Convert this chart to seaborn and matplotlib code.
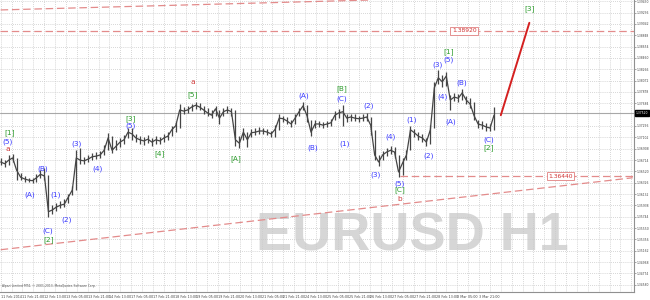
import numpy as np
import pandas as pd
import matplotlib
matplotlib.use("Agg")
import matplotlib.pyplot as plt
from matplotlib.ticker import MultipleLocator
import seaborn as sns

# ---------------- data ----------------
close = [1.3668, 1.3665, 1.3671, 1.3675, 1.3654, 1.3642, 1.3639, 1.3637, 1.3636, 1.3641,
         1.3647, 1.3644, 1.3583, 1.3586, 1.3591, 1.3594, 1.3596, 1.3608, 1.3620, 1.3675,
         1.3671, 1.3670, 1.3673, 1.3677, 1.3678, 1.3680, 1.3688, 1.3709, 1.3688, 1.3695,
         1.3702, 1.3706, 1.3719, 1.3716, 1.3709, 1.3706, 1.3704, 1.3707, 1.3702, 1.3706,
         1.3704, 1.3709, 1.3712, 1.3723, 1.3730, 1.3757, 1.3755, 1.3757, 1.3762, 1.3765,
         1.3762, 1.3757, 1.3752, 1.3748, 1.3759, 1.3743, 1.3754, 1.3757, 1.3754, 1.3706,
         1.3700, 1.3719, 1.3706, 1.3718, 1.3719, 1.3721, 1.3721, 1.3719, 1.3716, 1.3724,
         1.3743, 1.3742, 1.3738, 1.3733, 1.3743, 1.3754, 1.3764, 1.3747, 1.3719, 1.3733,
         1.3733, 1.3731, 1.3733, 1.3735, 1.3748, 1.3752, 1.3754, 1.3743, 1.3745, 1.3743,
         1.3742, 1.3743, 1.3745, 1.3731, 1.3680, 1.3668, 1.3680, 1.3685, 1.3688, 1.3685,
         1.3651, 1.3666, 1.3680, 1.3723, 1.3718, 1.3712, 1.3709, 1.3702, 1.3723, 1.3795,
         1.3812, 1.3805, 1.3815, 1.3774, 1.3779, 1.3777, 1.3786, 1.3774, 1.3767, 1.3747,
         1.3733, 1.3731, 1.3728, 1.3726, 1.3748]
high = [1.3675, 1.3671, 1.3680, 1.3682, 1.3675, 1.3649, 1.3644, 1.3641, 1.3641, 1.3647,
        1.3654, 1.3658, 1.3646, 1.3594, 1.3598, 1.3601, 1.3605, 1.3613, 1.3627, 1.3688,
        1.3692, 1.3677, 1.3680, 1.3683, 1.3685, 1.3687, 1.3697, 1.3718, 1.3712, 1.3706,
        1.3709, 1.3714, 1.3726, 1.3726, 1.3716, 1.3712, 1.3711, 1.3714, 1.3709, 1.3712,
        1.3711, 1.3716, 1.3719, 1.3730, 1.3736, 1.3767, 1.3762, 1.3764, 1.3767, 1.3771,
        1.3769, 1.3764, 1.3760, 1.3757, 1.3764, 1.3757, 1.3760, 1.3764, 1.3760, 1.3757,
        1.3712, 1.3726, 1.3719, 1.3724, 1.3726, 1.3728, 1.3726, 1.3724, 1.3721, 1.3731,
        1.3750, 1.3747, 1.3745, 1.3740, 1.3750, 1.3760, 1.3771, 1.3765, 1.3740, 1.3740,
        1.3738, 1.3736, 1.3738, 1.3742, 1.3755, 1.3759, 1.3765, 1.3750, 1.3750, 1.3750,
        1.3747, 1.3750, 1.3752, 1.3745, 1.3723, 1.3680, 1.3687, 1.3692, 1.3695, 1.3694,
        1.3680, 1.3675, 1.3688, 1.3730, 1.3724, 1.3719, 1.3716, 1.3709, 1.3731, 1.3805,
        1.3825, 1.3817, 1.3822, 1.3783, 1.3786, 1.3784, 1.3793, 1.3781, 1.3777, 1.3771,
        1.3740, 1.3738, 1.3735, 1.3733, 1.3762]
low = [1.3663, 1.3659, 1.3663, 1.3668, 1.3637, 1.3637, 1.3634, 1.3634, 1.3632, 1.3634,
       1.3641, 1.3637, 1.3574, 1.3579, 1.3584, 1.3589, 1.3591, 1.3598, 1.3612, 1.3620,
       1.3665, 1.3665, 1.3668, 1.3671, 1.3673, 1.3675, 1.3680, 1.3688, 1.3683, 1.3688,
       1.3694, 1.3699, 1.3709, 1.3706, 1.3702, 1.3699, 1.3697, 1.3700, 1.3695, 1.3699,
       1.3699, 1.3702, 1.3706, 1.3712, 1.3719, 1.3726, 1.3750, 1.3752, 1.3755, 1.3759,
       1.3757, 1.3750, 1.3747, 1.3743, 1.3747, 1.3733, 1.3747, 1.3752, 1.3747, 1.3695,
       1.3692, 1.3706, 1.3694, 1.3711, 1.3714, 1.3716, 1.3716, 1.3714, 1.3711, 1.3711,
       1.3723, 1.3736, 1.3733, 1.3728, 1.3733, 1.3747, 1.3757, 1.3736, 1.3712, 1.3726,
       1.3728, 1.3726, 1.3728, 1.3730, 1.3740, 1.3743, 1.3730, 1.3736, 1.3738, 1.3738,
       1.3736, 1.3738, 1.3738, 1.3714, 1.3671, 1.3661, 1.3671, 1.3678, 1.3682, 1.3675,
       1.3642, 1.3646, 1.3671, 1.3688, 1.3711, 1.3706, 1.3702, 1.3695, 1.3699, 1.3726,
       1.3801, 1.3796, 1.3798, 1.3757, 1.3772, 1.3771, 1.3774, 1.3767, 1.3760, 1.3740,
       1.3726, 1.3724, 1.3721, 1.3721, 1.3723]
last_bar = 363           # hourly bar index of the last sample
n_bars_view = 466        # bars visible in the window

date_labels = ["11 Feb 2014", "11 Feb 21:00", "12 Feb 13:00", "13 Feb 05:00", "13 Feb 21:00",
               "14 Feb 13:00", "17 Feb 05:00", "17 Feb 21:00", "18 Feb 13:00", "19 Feb 05:00",
               "19 Feb 21:00", "20 Feb 13:00", "21 Feb 05:00", "21 Feb 21:00", "24 Feb 13:00",
               "25 Feb 05:00", "25 Feb 21:00", "26 Feb 13:00", "27 Feb 05:00", "27 Feb 21:00",
               "28 Feb 13:00", "3 Mar 05:00", "3 Mar 21:00"]
price_ticks = [1.39430, 1.39236, 1.39042, 1.38848, 1.38654, 1.38460, 1.38266, 1.38072,
               1.37878, 1.37684, 1.37296, 1.37102, 1.36908, 1.36714, 1.36520, 1.36326,
               1.36132, 1.35938, 1.35744, 1.35550, 1.35356, 1.35162, 1.34968, 1.34774, 1.34580]

level_hi = 1.38920
level_lo = 1.36440
current_price = 1.37520
upper_trend = ([0, 272], [1.3928, 1.3945])
lower_trend = ([0, 465], [1.3518, 1.3641])
projection = ([368, 389], [1.3748, 1.3906])

BLUE, GREEN, RED = "#3a3aff", "#2a9a2a", "#d03a3a"
waves = [("[1]", 6.6, 1.3719, GREEN), ("(5)", 5.1, 1.3702, BLUE), ("a", 5.1, 1.3690, RED),
         ("(A)", 21.3, 1.3612, BLUE), ("(B)", 30.9, 1.3656, BLUE), ("(C)", 34.6, 1.3550, BLUE),
         ("[2]", 35.3, 1.3536, GREEN), ("(1)", 40.4, 1.3612, BLUE), ("(2)", 48.5, 1.3569, BLUE),
         ("(3)", 55.9, 1.3699, BLUE), ("(4)", 71.3, 1.3656, BLUE), ("[3]", 95.6, 1.3743, GREEN),
         ("(5)", 95.6, 1.3730, BLUE), ("[4]", 116.9, 1.3682, GREEN), ("a", 141.2, 1.3805, RED),
         ("[5]", 141.2, 1.3784, GREEN), ("[A]", 172.8, 1.3673, GREEN), ("(A)", 222.8, 1.3781, BLUE),
         ("(B)", 229.4, 1.3692, BLUE), ("[B]", 250.7, 1.3793, GREEN), ("(C)", 250.7, 1.3776, BLUE),
         ("(1)", 252.9, 1.3700, BLUE), ("(2)", 270.6, 1.3764, BLUE), ("(3)", 275.7, 1.3647, BLUE),
         ("(4)", 286.8, 1.3711, BLUE), ("(5)", 293.4, 1.3630, BLUE), ("[C]", 293.4, 1.3620, GREEN),
         ("b", 293.4, 1.3605, RED), ("(1)", 302.2, 1.3740, BLUE), ("(2)", 314.7, 1.3678, BLUE),
         ("(3)", 321.3, 1.3834, BLUE), ("[1]", 329.4, 1.3856, GREEN), ("(5)", 329.4, 1.3842, BLUE),
         ("(4)", 325.0, 1.3779, BLUE), ("(B)", 339.0, 1.3803, BLUE), ("(A)", 330.9, 1.3736, BLUE),
         ("(C)", 358.8, 1.3706, BLUE), ("[2]", 358.8, 1.3692, GREEN), ("[3]", 389.0, 1.3930, GREEN)]

# ---------------- plot ----------------
sns.set_style("white")
plt.rcParams["font.family"] = ["DejaVu Sans"]

fig = plt.figure(figsize=(6.5, 3.0), dpi=100)
ax = fig.add_axes([0.0, 8 / 300, 634 / 650, 292 / 300])
ax.set_xlim(-0.5, n_bars_view)
ax.set_ylim(1.34457, 1.39450)

bars = np.linspace(0, last_bar, len(close))
df = pd.DataFrame({"bar": bars, "close": close, "high": high, "low": low})

# watermark
ax.text(303, 1.3540, "EURUSD H1", fontsize=39, fontweight="bold", color="#d6d6d6",
        family="Liberation Sans", ha="center", va="center", zorder=0)

# grid
ax.xaxis.set_minor_locator(MultipleLocator(8))
ax.grid(True, which="both", axis="x", color="#c9c9c9", lw=0.6, ls=(0, (1, 1.5)))
ax.grid(True, which="major", axis="y", color="#c9c9c9", lw=0.6, ls=(0, (1, 1.5)))
ax.set_axisbelow(True)

# dashed levels and trendlines
dash = dict(color="#e38b8b", lw=0.9, ls=(0, (6, 3)))
ax.plot(*upper_trend, **dash)
ax.plot(*lower_trend, **dash)
ax.axhline(level_hi, **dash)
ax.plot([294, n_bars_view], [level_lo, level_lo], **dash)
ax.axhline(current_price, color="#a8a8a8", lw=0.8)

for val, xb in [(level_hi, 341), (level_lo, 412)]:
    ax.text(xb, val, f"{val:.5f}", fontsize=4.3, color="#d03030", ha="center", va="center",
            bbox=dict(boxstyle="square,pad=0.25", fc="white", ec="#e08080", lw=0.6))

# price bars
ax.vlines(df["bar"], df["low"], df["high"], color="#454545", lw=0.9, zorder=3)
sns.lineplot(data=df, x="bar", y="close", ax=ax, color="#454545", lw=0.9, zorder=3,
             estimator=None, sort=False)

# projection
sns.lineplot(x=projection[0], y=projection[1], ax=ax, color="#d42020", lw=1.4, zorder=4)

for txt, xb, yv, col in waves:
    ax.text(xb, yv, txt, fontsize=5.3, color=col, ha="center", va="center", zorder=5)

# axes styling
ax.set_xlabel("")
ax.set_ylabel("")
ax.yaxis.tick_right()
ax.set_yticks(price_ticks)
ax.set_yticklabels([f"{v:.5f}" for v in price_ticks], fontsize=2.2, color="#444444")
ax.set_xticks(np.arange(len(date_labels)) * 16)
ax.set_xticklabels(date_labels, fontsize=2.4, color="#444444", ha="left")
ax.tick_params(axis="x", which="major", length=2, width=0.5, pad=0.5, color="#808080")
ax.tick_params(axis="x", which="minor", length=0)
ax.tick_params(axis="y", length=1.5, width=0.5, pad=0.6, color="#808080")
for s in ["top", "left"]:
    ax.spines[s].set_visible(False)
for s in ["right", "bottom"]:
    ax.spines[s].set_color("#909090")
    ax.spines[s].set_linewidth(0.8)

ax.text(1.002, current_price, f"{current_price:.5f}", transform=ax.get_yaxis_transform(),
        fontsize=2.2, color="white", ha="left", va="center",
        bbox=dict(boxstyle="square,pad=0.25", fc="black", ec="black"), clip_on=False)

ax.text(0.003, 0.012, "Alpari Limited MT4, \u00a9 2001-2013, MetaQuotes Software Corp.",
        transform=ax.transAxes, fontsize=2.2, color="#555555", ha="left", va="bottom")

fig.savefig("out.png", dpi=100)
